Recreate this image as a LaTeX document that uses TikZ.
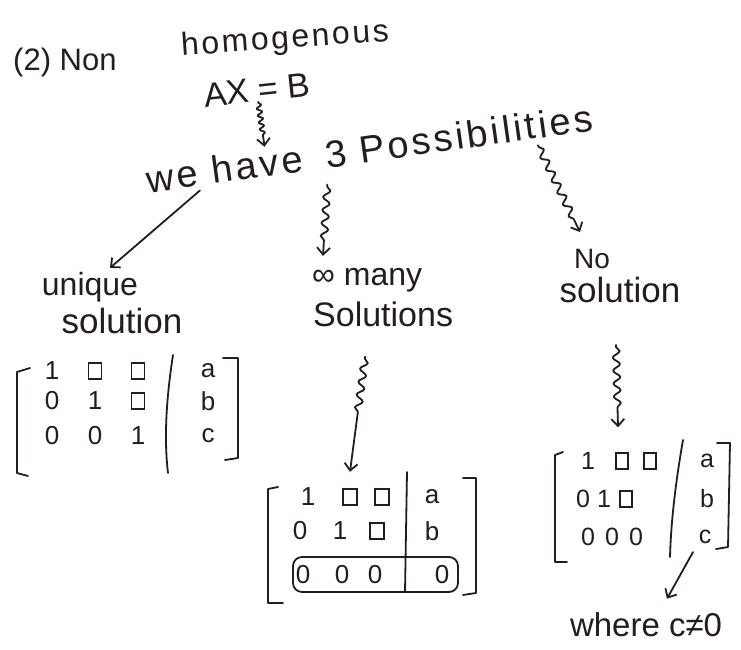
\documentclass[tikz,border=0pt]{standalone}
\usepackage{fontspec}
\setmainfont{Liberation Sans}
\usetikzlibrary{decorations.pathmorphing,arrows.meta,calc}
\definecolor{ink}{RGB}{38,28,28}
\begin{document}
\begin{tikzpicture}[x=1pt,y=-1pt,
  every node/.style={text=ink, inner sep=0pt},
  inkline/.style={draw=ink, line width=1.8pt, line cap=round, line join=round},
  arrowtip/.style={-{Straight Barb[length=7pt,width=13pt,line width=1.8pt]}},
  arr/.style={inkline, arrowtip},
  squig/.style={inkline, arrowtip, decorate, decoration={snake, amplitude=3.5pt, segment length=13pt, pre length=2pt, post length=#1}},
  squig/.default=14pt,
  smallsquig/.style={inkline, arrowtip, decorate, decoration={snake, amplitude=2.5pt, segment length=7pt, pre length=1pt, post length=9pt}},
  fs/.style={font=\fontsize{#1}{#1}\selectfont},
  spaced/.style={font=\fontsize{#1}{#1}\selectfont\addfontfeatures{LetterSpace=8}},
  cell/.style={draw=ink, line width=1.5pt, minimum width=#1, minimum height=16pt},
]
\useasboundingbox (0,0) rectangle (741,650);
\fill[white] (0,0) rectangle (741,650);

% ---- headings ----
\node[fs=31, anchor=west] (t1) at (13,62) {(2) Non};
\node[spaced=32, rotate=4] (t2) at (285,40) {homogenous};
\node[fs=34, rotate=6] (axb) at (257,90) {AX = B};
\node[spaced=38, rotate=8] (pw) at (224.5,168.7) {we have};
\node[spaced=38, rotate=8] (pp) at (459.1,135.8) {3 Possibilities};

% ---- three cases ----
\node[fs=32] (uq1) at (90,287) {unique};
\node[fs=35] (uq2) at (122,321) {solution};
\node[fs=32, anchor=west] (inf1) at (312,280) {∞ many};
\node[fs=34, anchor=west] (inf2) at (313,314) {Solutions};
\node[fs=28] (no1) at (592,259) {No};
\node[fs=35] (no2) at (620,290) {solution};
\node[fs=33] (where) at (646,625) {where c≠0};

% ---- matrix boxes (invisible) ----
\node[minimum width=223pt, minimum height=120pt] (m1) at (128,415) {};
\node[minimum width=209pt, minimum height=132pt] (m2) at (372,538) {};
\node[minimum width=176pt, minimum height=125pt] (m3) at (643,500) {};

% ---- matrix 1 ----
\foreach \x/\y/\t [count=\i] in {52/371/1, 52/401/0, 95/401/1, 52/436/0, 95/436/0, 138/436/1, 208/371/a, 208/401/b, 208/436/c}
  \node[fs=26] (ma\i) at (\x,\y) {\t};
\foreach \x/\y [count=\i] in {95/371, 138/371, 138/401}
  \node[cell=13pt] (mas\i) at (\x,\y) {};
\draw[inkline] (30,368) -- (17,372) -- (17,473) -- (28,476);
\draw[inkline] (223,358) -- (238,358) -- (238,458) -- (225,460);
\draw[inkline] (173,355) .. controls (166,400) and (164,440) .. (168,473);

% ---- matrix 2 ----
\foreach \x/\y/\t [count=\i] in {308/497/1, 300/531/0, 340/531/1, 303/575/0, 342/575/0, 375/575/0, 432/497/a, 432/531/b, 442/575/0}
  \node[fs=26] (mb\i) at (\x,\y) {\t};
\foreach \x/\y [count=\i] in {350/497, 382/497, 377/531}
  \node[cell=14pt] (mbs\i) at (\x,\y) {};
\draw[inkline] (278,487) -- (268,489) -- (268,603) -- (283,603);
\draw[inkline] (463,478) -- (476,478) -- (476,593) -- (463,595);
\draw[inkline] (407,472) -- (405,592);
\draw[inkline, rounded corners=9pt] (293,557) rectangle (458,592);

% ---- matrix 3 ----
\foreach \x/\y/\t [count=\i] in {588/461/1, 583/499/0, 604/499/1, 588/537/0, 612/537/0, 636/537/0, 707/461/a, 707/499/b, 705/537/c}
  \node[fs=25] (mc\i) at (\x,\y) {\t};
\foreach \x/\y [count=\i] in {622/461, 650/461, 626/499}
  \node[cell=12pt] (mcs\i) at (\x,\y) {};
\draw[inkline] (563,452) -- (555,455) -- (555,562) -- (567,562);
\draw[inkline] (717,443) -- (730,443) -- (728,547) -- (716,549);
\draw[inkline] (683,440) .. controls (676,480) and (671,520) .. (670,557);

% ---- connectors ----
\draw[smallsquig] (axb.south) -- ($(pw.north west)!0.77!(pw.north east)+(0,-2)$);
\draw[arr] ($(pw.south west)!0.33!(pw.south east)+(0,4)$) -- ($(uq1.north)+(20,-4)$);
\draw[squig] ($(pp.south west)+(0,16)$) -- ($(inf1.north west)+(11,-12)$);
\draw[squig] ($(pp.south west)!0.78!(pp.south east)+(2,6)$) -- ($(no1.north)+(-12,-17)$);
\draw[squig=60pt] ($(inf2.south)+(-18,30)$) -- ($(m2.north)+(-22,0)$);
\draw[squig=20pt] ($(no2.south)+(-4,42)$) -- ($(m3.north)+(-25,-10)$);
\draw[arr] ($(mc9.south)+(-12,8)$) -- ($(where.north)+(21,-14)$);
\end{tikzpicture}
\end{document}
